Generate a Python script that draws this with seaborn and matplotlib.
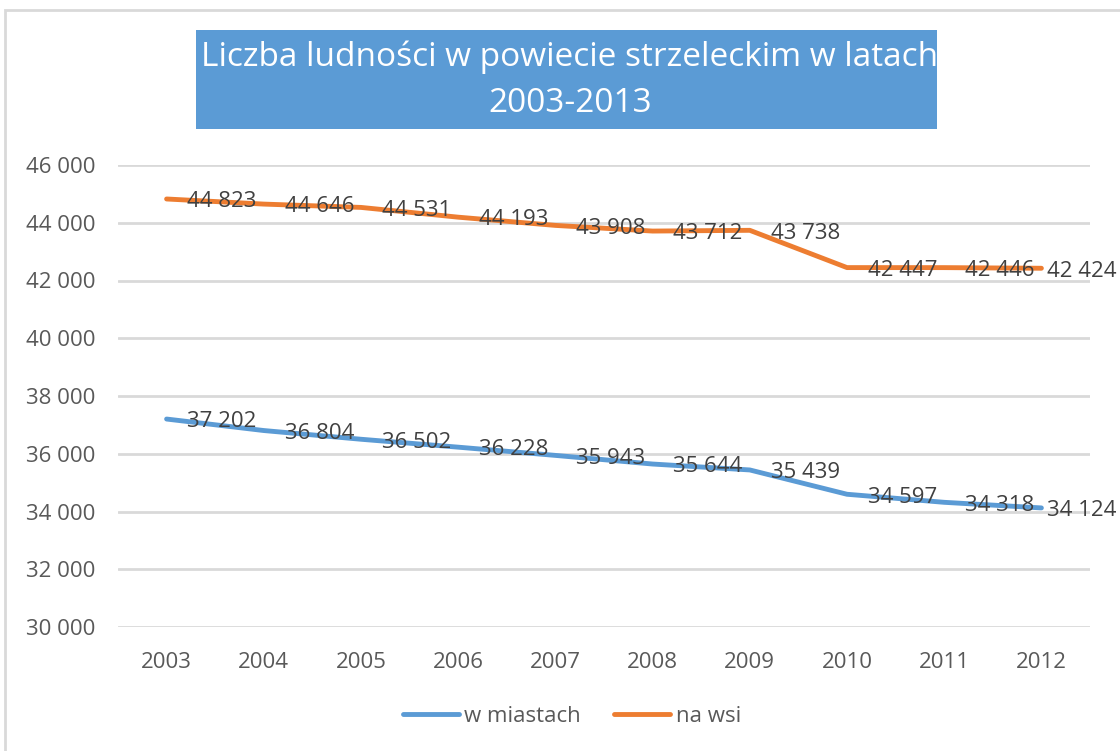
import matplotlib
matplotlib.use("Agg")
import matplotlib.pyplot as plt
from matplotlib.patches import Rectangle
import seaborn as sns
import pandas as pd

# data
years = [2003, 2004, 2005, 2006, 2007, 2008, 2009, 2010, 2011, 2012]
miasto = [37202, 36804, 36502, 36228, 35943, 35644, 35439, 34597, 34318, 34124]
wies = [44823, 44646, 44531, 44193, 43908, 43712, 43738, 42447, 42446, 42424]
series_names = ["w miastach", "na wsi"]
title = "Liczba ludności w powiecie strzeleckim w latach\n2003-2013"

BLUE = "#5B9BD5"
ORANGE = "#ED7D31"
GRID = "#D9D9D9"
TICK = "#595959"
LABEL = "#404040"


def fmt(v):
    return f"{v:,.0f}".replace(",", " ")


sns.set_theme(style="white")
plt.rcParams["font.family"] = ["Open Sans", "DejaVu Sans"]

df = pd.DataFrame({
    "rok": years * 2,
    "ludnosc": miasto + wies,
    "grupa": [series_names[0]] * len(years) + [series_names[1]] * len(years),
})

fig = plt.figure(figsize=(11.2, 7.51), dpi=100)
ax = fig.add_axes([118 / 1120, 1 - 627 / 751, (1090 - 118) / 1120, (627 - 165) / 751])

# outer chart border
fig.patches.append(Rectangle((5 / 1120, -0.1), 1.2, 1 - 10 / 751 + 0.1,
                             transform=fig.transFigure, fill=False,
                             edgecolor=GRID, linewidth=2))

sns.lineplot(data=df, x="rok", y="ludnosc", hue="grupa",
             palette=[BLUE, ORANGE], linewidth=3.5, ax=ax, legend=True)
for line in ax.lines:
    line.set_solid_capstyle("round")

ax.set_xlim(years[0] - 0.5, years[-1] + 0.5)
ax.set_ylim(30000, 46000)
ax.set_yticks(range(30000, 46001, 2000))
ax.set_yticklabels([fmt(v) for v in range(30000, 46001, 2000)])
ax.set_xticks(years)
ax.set_xticklabels([str(y) for y in years])
ax.tick_params(axis="y", length=0, pad=16, labelsize=16, colors=TICK)
ax.tick_params(axis="x", length=0, pad=18, labelsize=16, colors=TICK)
ax.yaxis.grid(True, color=GRID, linewidth=2)
ax.xaxis.grid(False)
for s in ax.spines.values():
    s.set_visible(False)
ax.set_xlabel("")
ax.set_ylabel("")

# data labels
for vals in (miasto, wies):
    for i, (x, v) in enumerate(zip(years, vals)):
        dx = 4 if i == len(years) - 1 else 15
        ax.annotate(fmt(v), (x, v), xytext=(dx, -2), textcoords="offset points",
                    ha="left", va="center", fontsize=16, color=LABEL,
                    annotation_clip=False)

# title box
fig.patches.append(Rectangle((196 / 1120, 1 - 129 / 751), (937 - 196) / 1120, 99 / 751,
                             transform=fig.transFigure, facecolor=BLUE,
                             edgecolor="none"))
fig.text(570 / 1120, 1 - 80 / 751, title, ha="center", va="center",
         color="white", fontsize=24, linespacing=1.5)

handles, labels = ax.get_legend_handles_labels()
ax.legend(handles, labels, loc="center", bbox_to_anchor=(572 / 1120, 1 - 716 / 751),
          bbox_transform=fig.transFigure, ncol=2, frameon=False, fontsize=16,
          handlelength=2.5, handletextpad=0.25, columnspacing=1.5,
          labelcolor=TICK)

fig.savefig("out.png", dpi=100)
